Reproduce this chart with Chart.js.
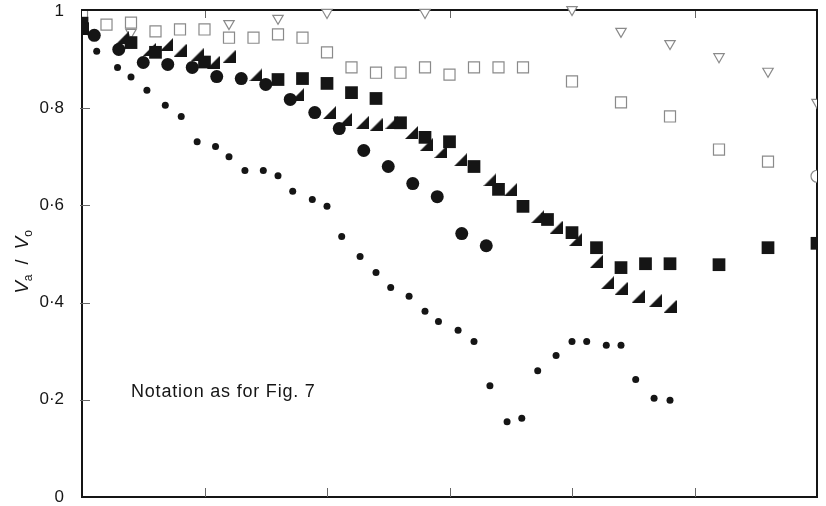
<!DOCTYPE html>
<html>
<head>
<meta charset="utf-8">
<script src="https://cdn.jsdelivr.net/npm/chart.js@4"></script>
<style>
  html, body { margin: 0; padding: 0; background: #fff; }
  #wrap { width: 826px; height: 506px; }
</style>
</head>
<body>
<div id="wrap"><canvas id="ratioChart"></canvas></div>
<script>
// Small filled dots
const dotX = [0, 0.12, 0.29, 0.40, 0.53, 0.68, 0.81, 0.94, 1.09, 1.20, 1.33, 1.48, 1.60, 1.72, 1.88, 2.00, 2.12, 2.27, 2.40, 2.52,
              2.67, 2.80, 2.91, 3.07, 3.20, 3.33, 3.47, 3.59, 3.72, 3.87, 4.00, 4.12, 4.28, 4.40, 4.52, 4.67, 4.80];
const dotY = [0.970, 0.917, 0.884, 0.864, 0.837, 0.806, 0.783, 0.731, 0.721, 0.700, 0.672, 0.672, 0.661, 0.629, 0.612, 0.598, 0.536, 0.495, 0.462, 0.431,
              0.413, 0.382, 0.361, 0.343, 0.320, 0.229, 0.155, 0.162, 0.260, 0.291, 0.320, 0.320, 0.312, 0.312, 0.242, 0.203, 0.199];

// Large filled circles
const circleX = [0, 0.1, 0.3, 0.5, 0.7, 0.9, 1.1, 1.3, 1.5, 1.7, 1.9, 2.1, 2.3, 2.5, 2.7, 2.9, 3.1, 3.3];
const circleY = [0.965, 0.950, 0.921, 0.894, 0.890, 0.884, 0.865, 0.861, 0.849, 0.818, 0.791, 0.758, 0.713, 0.680, 0.645, 0.618, 0.542, 0.517];

// Filled right-angled triangles
const wedgeX = [0, 0.33, 0.55, 0.69, 0.80, 0.94, 1.07, 1.20, 1.42, 1.76, 2.02, 2.15, 2.29, 2.40, 2.53,
                2.69, 2.81, 2.93, 3.09, 3.33, 3.50, 3.72, 3.87, 4.03, 4.20, 4.29, 4.40, 4.54, 4.68, 4.80];
const wedgeY = [0.965, 0.945, 0.921, 0.931, 0.919, 0.910, 0.894, 0.906, 0.869, 0.828, 0.791, 0.777, 0.771, 0.766, 0.771,
                0.750, 0.725, 0.711, 0.694, 0.653, 0.633, 0.577, 0.555, 0.530, 0.485, 0.441, 0.429, 0.413, 0.404, 0.392];

// Filled squares
const squareX = [0, 0.4, 0.6, 1.0, 1.6, 1.8, 2.0, 2.2, 2.4, 2.6, 2.8, 3.0, 3.2, 3.4, 3.6, 3.8, 4.0, 4.2, 4.4, 4.6, 4.8, 5.2, 5.6, 6.0];
const squareY = [0.975, 0.935, 0.915, 0.895, 0.859, 0.861, 0.851, 0.832, 0.820, 0.770, 0.740, 0.731, 0.680, 0.633, 0.598, 0.571, 0.544, 0.513, 0.472, 0.480, 0.480, 0.478, 0.513, 0.522];

// Open squares
const boxX = [0, 0.2, 0.4, 0.6, 0.8, 1.0, 1.2, 1.4, 1.6, 1.8, 2.0, 2.2, 2.4, 2.6, 2.8, 3.0, 3.2, 3.4, 3.6, 4.0, 4.4, 4.8, 5.2, 5.6];
const boxY = [0.993, 0.972, 0.976, 0.958, 0.962, 0.962, 0.945, 0.945, 0.952, 0.945, 0.915, 0.884, 0.873, 0.873, 0.884, 0.869, 0.884, 0.884, 0.884, 0.855, 0.812, 0.783, 0.715, 0.690];

// Open inverted triangles
const vX = [0.4, 1.2, 1.6, 2.0, 2.8, 4.0, 4.4, 4.8, 5.2, 5.6, 6.0];
const vY = [0.956, 0.974, 0.985, 0.997, 0.997, 1.003, 0.958, 0.933, 0.906, 0.876, 0.812];

// Open circles (mostly above the top of the axis)
const ringX = [2.4, 3.2, 3.6, 6.0];
const ringY = [1.02, 1.02, 1.02, 0.66];

const xTickValues = [1, 2, 3, 4, 5];
const xTopTickValues = [1, 3, 5];
const yTickLabels = ['0', '0·2', '0·4', '0·6', '0·8', '1'];
const noteText = 'Notation as for Fig. 7';

const ink = '#151515';
const grey = '#8a8a8a';
const FONT = '"Liberation Sans", Arial, sans-serif';

function pairs(xs, ys) {
    return xs.map((x, i) => ({ x: x, y: ys[i] }));
}

// right-angled triangle with the right angle at the bottom right
function wedgeImage(size) {
    const c = document.createElement('canvas');
    c.width = size;
    c.height = size;
    const g = c.getContext('2d');
    g.fillStyle = ink;
    g.beginPath();
    g.moveTo(size, 0);
    g.lineTo(size, size);
    g.lineTo(0, size);
    g.closePath();
    g.fill();
    return c;
}

// frame, inward ticks, axis title and note
const decorations = {
    id: 'decorations',
    beforeDatasetsDraw(chart) {
        const { ctx, chartArea: a, scales: { x, y } } = chart;
        ctx.save();
        ctx.strokeStyle = ink;
        ctx.lineWidth = 2;
        ctx.beginPath();
        ctx.moveTo(a.left - 1, a.top - 1);
        ctx.lineTo(a.right, a.top - 1);
        ctx.lineTo(a.right, a.bottom + 1);
        ctx.stroke();

        ctx.lineWidth = 1;
        ctx.strokeStyle = '#666';
        ctx.beginPath();
        xTickValues.forEach(v => {
            const px = Math.round(x.getPixelForValue(v)) + 0.5;
            ctx.moveTo(px, a.bottom);
            ctx.lineTo(px, a.bottom - 9);
        });
        xTopTickValues.forEach(v => {
            const px = Math.round(x.getPixelForValue(v)) + 0.5;
            ctx.moveTo(px, a.top);
            ctx.lineTo(px, a.top + 7);
        });
        [0.2, 0.4, 0.6, 0.8].forEach(v => {
            const py = Math.round(y.getPixelForValue(v)) + 0.5;
            ctx.moveTo(a.left - 2, py);
            ctx.lineTo(a.left + 8, py);
        });
        ctx.stroke();
        ctx.restore();
    },
    afterDraw(chart) {
        const { ctx, scales: { x, y } } = chart;
        ctx.save();
        ctx.fillStyle = ink;

        // note inside the plot
        ctx.font = '18px ' + FONT;
        ctx.letterSpacing = '0.8px';
        ctx.textBaseline = 'middle';
        ctx.textAlign = 'left';
        ctx.fillText(noteText, x.getPixelForValue(0.4), y.getPixelForValue(0.215));
        ctx.letterSpacing = '0px';

        // rotated y title: Va / Vo
        const parts = [
            ['V', 'italic 19px ' + FONT, 0],
            ['a', '12px ' + FONT, 4],
            ['  /  ', '18px ' + FONT, 0],
            ['V', 'italic 19px ' + FONT, 0],
            ['o', '12px ' + FONT, 4]
        ];
        let total = 0;
        parts.forEach(p => { ctx.font = p[1]; total += ctx.measureText(p[0]).width; });
        ctx.translate(28, 262);
        ctx.rotate(-Math.PI / 2);
        ctx.textBaseline = 'alphabetic';
        let cx = -total / 2;
        parts.forEach(p => {
            ctx.font = p[1];
            ctx.fillText(p[0], cx, p[2]);
            cx += ctx.measureText(p[0]).width;
        });
        ctx.restore();
    }
};

const ctx = document.getElementById('ratioChart');

new Chart(ctx, {
    type: 'scatter',
    data: {
        datasets: [
            {
                label: 'small dots',
                data: pairs(dotX, dotY),
                pointStyle: 'circle',
                pointRadius: 3.5,
                backgroundColor: ink,
                borderColor: ink,
                borderWidth: 0
            },
            {
                label: 'circles',
                data: pairs(circleX, circleY),
                pointStyle: 'circle',
                pointRadius: 6.5,
                backgroundColor: ink,
                borderColor: ink,
                borderWidth: 0
            },
            {
                label: 'wedges',
                data: pairs(wedgeX, wedgeY),
                pointStyle: wedgeImage(13),
                pointRadius: 6
            },
            {
                label: 'squares',
                data: pairs(squareX, squareY),
                pointStyle: 'rect',
                pointRadius: 9,
                backgroundColor: ink,
                borderColor: ink,
                borderWidth: 0
            },
            {
                label: 'open squares',
                data: pairs(boxX, boxY),
                pointStyle: 'rect',
                pointRadius: 7.8,
                backgroundColor: '#fff',
                borderColor: grey,
                borderWidth: 1.2
            },
            {
                label: 'open triangles',
                data: pairs(vX, vY),
                pointStyle: 'triangle',
                rotation: 180,
                pointRadius: 6,
                backgroundColor: '#fff',
                borderColor: grey,
                borderWidth: 1.2,
                clip: { left: 10, top: 14, right: 0, bottom: 10 }
            },
            {
                label: 'open circles',
                data: pairs(ringX, ringY),
                pointStyle: 'circle',
                pointRadius: 6,
                backgroundColor: '#fff',
                borderColor: grey,
                borderWidth: 1.2,
                clip: { left: 10, top: 14, right: 0, bottom: 10 }
            }
        ]
    },
    options: {
        responsive: true,
        maintainAspectRatio: false,
        animation: false,
        layout: { padding: { left: 0, right: 6, top: 11, bottom: 8 } },
        plugins: {
            legend: { display: false },
            tooltip: { enabled: false }
        },
        scales: {
            x: {
                type: 'linear',
                min: 0,
                max: 6,
                ticks: { display: false },
                grid: { display: false },
                border: { color: ink, width: 2 },
                afterFit(scale) { scale.height = 0; scale.paddingLeft = 0; scale.paddingRight = 0; }
            },
            y: {
                min: 0,
                max: 1,
                ticks: {
                    stepSize: 0.2,
                    color: ink,
                    padding: 10,
                    font: { family: FONT, size: 17 },
                    callback: (value, index) => yTickLabels[index]
                },
                grid: { display: false },
                border: { color: ink, width: 2 },
                afterFit(scale) { scale.width = 82; scale.paddingTop = 0; scale.paddingBottom = 0; }
            }
        }
    },
    plugins: [decorations]
});
</script>
</body>
</html>
